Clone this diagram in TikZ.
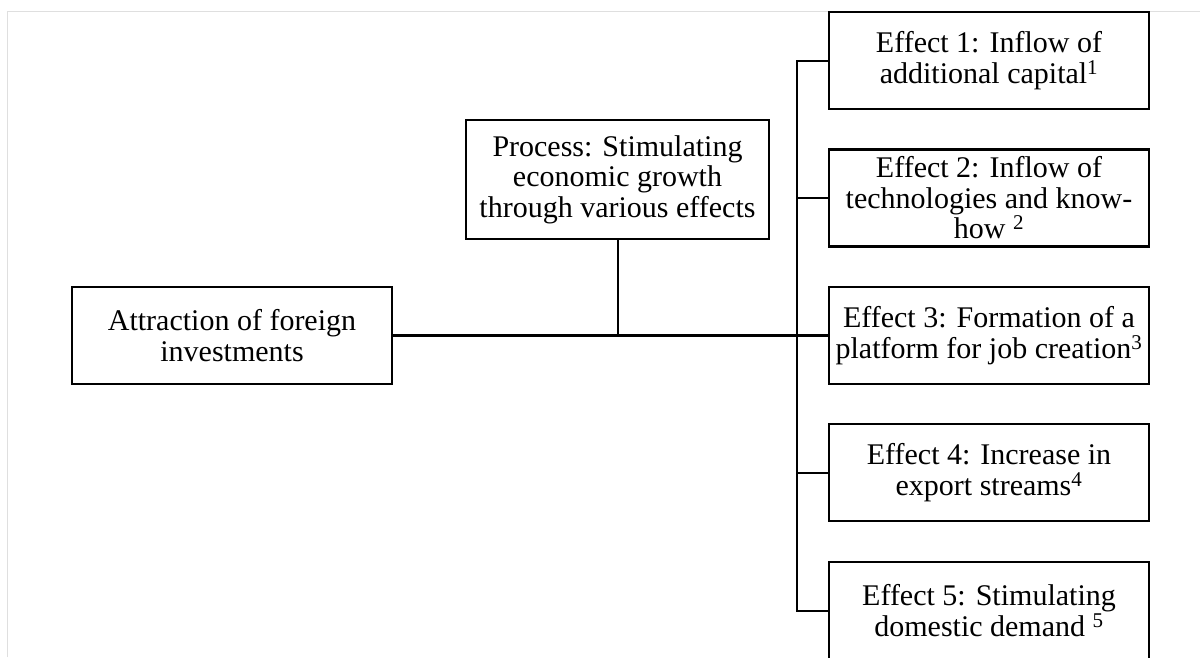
\documentclass[tikz,border=0pt]{standalone}
\usepackage{fontspec}
\setmainfont{Liberation Serif}
\tikzset{
  box/.style={draw, line width=2.2pt, align=center, inner sep=0pt,
    minimum width=320pt, minimum height=97pt, font=\fontsize{30}{30.5}\selectfont},
  link/.style={line width=2pt},
}
\begin{document}
\begin{tikzpicture}[x=1pt,y=-1pt]
      \clip (0,0) rectangle (1200,657);
      \draw [gray!25, line width=1pt] (7.5,657) -- (7.5,11.5) -- (1200,11.5);
      \node[box] (attr) at (232,335.5) {Attraction of foreign\\investments};
      \node[box, minimum width=303pt, minimum height=119pt] (proc) at (617.5,179.5)
        {Process: Stimulating\\economic growth\\through various effects};
      \node[box] (e1) at (989,60.5) {Effect 1: Inflow of\\additional capital\textsuperscript{1}};
      \node[box] (e2) at (989,198) {Effect 2: Inflow of\\technologies and know-\\how \textsuperscript{2}};
      \node[box] (e3) at (989,335.5) {Effect 3: Formation of a\\platform for job creation\textsuperscript{3}};
      \node[box] (e4) at (989,472.5) {Effect 4: Increase in\\export streams\textsuperscript{4}};
      \node[box] (e5) at (989,610.5) {Effect 5: Stimulating\\domestic demand \textsuperscript{5}};
      \coordinate (bus) at (797,60.5);
      \draw [link, line width=2.6pt] (attr.east) -- (e3.west);
      \draw [link] (proc.south) -- (proc.south |- attr.east);
      \draw [link] (e1.west) -- (bus) |- (e5.west);
      \draw [link] (e2.west) -- (e2.west -| bus);
      \draw [link] (e4.west) -- (e4.west -| bus);
    \end{tikzpicture}
\end{document}
